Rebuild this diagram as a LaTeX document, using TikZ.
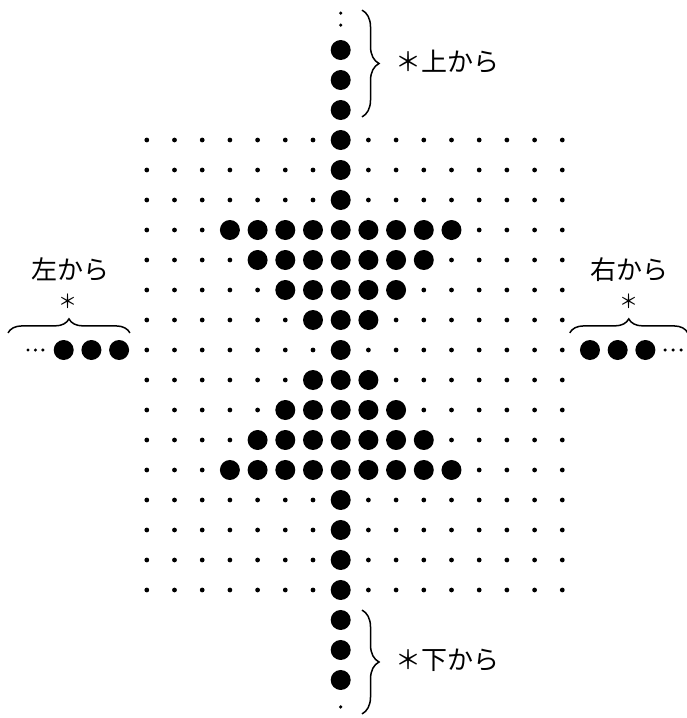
\documentclass[tikz,border=0pt]{standalone}
\usepackage{fontspec}
\usepackage{tikz}
\usetikzlibrary{decorations.pathreplacing}
\newfontfamily\jpfont{Noto Sans CJK JP}

\tikzset{
  vbrace/.style={decorate, decoration={brace, amplitude=17pt}, line width=1.5pt},
  hbrace/.style={decorate, decoration={brace, amplitude=14pt}, line width=1.5pt},
  label/.style={font=\jpfont\fontsize{26}{30}\selectfont, inner sep=0pt},
  star/.style={font=\jpfont\fontsize{19}{22}\selectfont, inner sep=0pt}
}

\begin{document}
\begin{tikzpicture}[x=27.7pt, y=30pt]
      \useasboundingbox (-12.3,-12.267) rectangle (12.466,11.667);
      \foreach \j in {-8,...,7} {
        \foreach \i in {-7,...,8} {
          \pgfmathtruncatemacro\isbig{(\i==0) || ((abs(\i)<=abs(\j)) && (abs(\j)<=4))}
          \ifnum\isbig=1
            \fill (\i,\j) circle (10pt);
          \else
            \fill (\i,\j) circle (2.4pt);
          \fi
        }
      }
      \foreach \j in {8,9,10} \fill (0,\j) circle (10pt);
      \foreach \j in {-9,-10,-11} \fill (0,\j) circle (10pt);
      \foreach \i in {-8,-9,-10} \fill (\i,0) circle (10pt);
      \foreach \i in {9,10,11} \fill (\i,0) circle (10pt);
      \foreach \j in {10.83,11.23} \fill (0,\j) circle (1.8pt);
      \fill (0,-11.9) circle (1.8pt);
      \foreach \i in {-11.29,-11.02,-10.75} \fill (\i,0) circle (1.7pt);
      \foreach \i in {11.71,12.0,12.29} \fill (\i,0) circle (1.7pt);
      \coordinate (T1) at (0.77,11.33);
      \coordinate (T2) at (0.77,7.77);
      \coordinate (B1) at (0.77,-8.67);
      \coordinate (B2) at (0.77,-12.13);
      \coordinate (L1) at (-12.01,0.57);
      \coordinate (L2) at (-7.61,0.57);
      \coordinate (R1) at (8.27,0.57);
      \coordinate (R2) at (12.53,0.57);
      \draw [vbrace] (T1) -- (T2);
      \draw [vbrace] (B1) -- (B2);
      \draw [hbrace] (L1) -- (L2);
      \draw [hbrace] (R1) -- (R2);
      \node [label] (top) at (3.84,9.6) {＊上から};
      \node [label] (bottom) at (3.84,-10.33) {＊下から};
      \node [label] (left) at (-9.77,2.67) {左から};
      \node [star] (leftstar) at (-9.84,1.63) {＊};
      \node [label] (right) at (10.44,2.67) {右から};
      \node [star] (rightstar) at (10.4,1.63) {＊};
    \end{tikzpicture}
\end{document}
